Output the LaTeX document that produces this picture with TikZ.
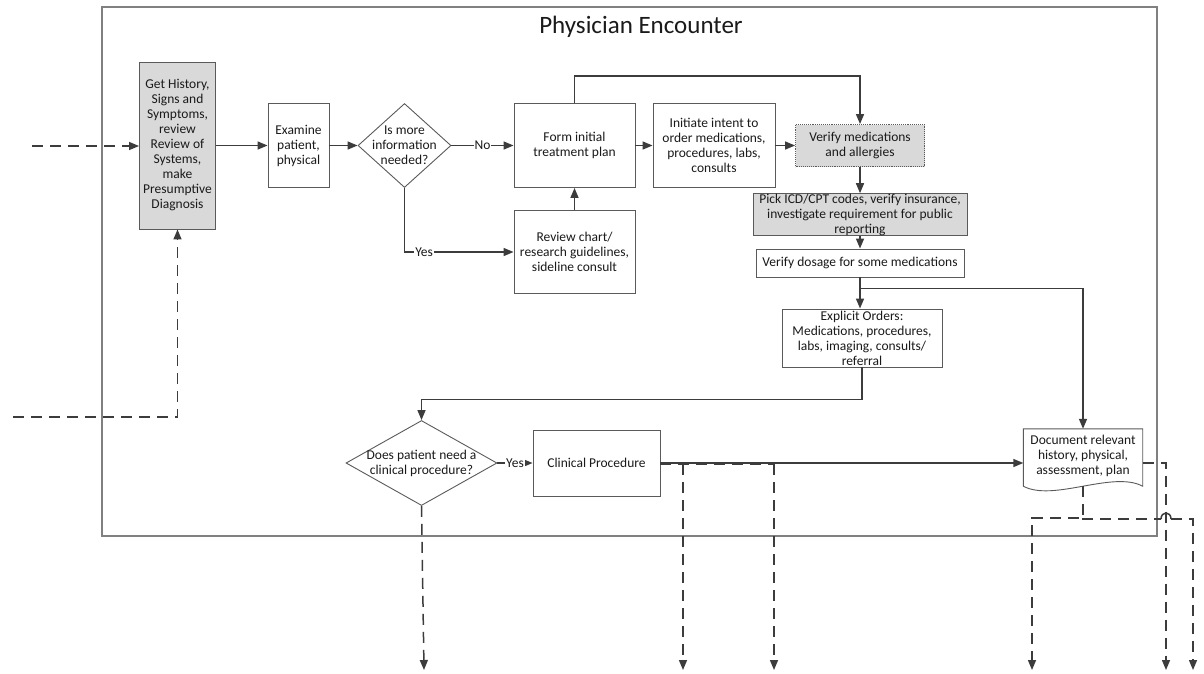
\documentclass[tikz,border=0pt]{standalone}
\usepackage{fontspec}
\setmainfont{Carlito}
\usetikzlibrary{arrows.meta,shapes.geometric,calc}
\definecolor{linegray}{HTML}{3C3C3C}
\definecolor{boxgray}{HTML}{D9D9D9}
\definecolor{framegray}{HTML}{808080}
\definecolor{edgegray}{HTML}{5A5A5A}
\definecolor{inkgray}{HTML}{1A1A1A}

\begin{document}
\begin{tikzpicture}[x=1pt,y=-1pt,
  font=\fontsize{13.5}{15}\selectfont,
  every node/.style={text=inkgray, inner sep=0pt, align=center},
  box/.style={draw=edgegray, line width=0.9pt, rectangle, fill=white},
  shaded/.style={box, fill=boxgray},
  decision/.style={draw=edgegray, line width=0.9pt, diamond, fill=white},
  flow/.style={draw=linegray, line width=1.5pt, -{Triangle[length=10pt,width=8pt]}},
  plain/.style={draw=linegray, line width=1.5pt},
  dashflow/.style={flow, dash pattern=on 11pt off 7pt},
  dashplain/.style={plain, dash pattern=on 11pt off 7pt},
  tag/.style={fill=white, inner sep=1pt}
]
\useasboundingbox (0,0) rectangle (1204,673);

% swimlane frame and title
\node (frame) [draw=framegray, line width=1.2pt, minimum width=1055, minimum height=529] at (629.5,271.5) {};
\node (title) at (641,27) {\fontsize{25}{29}\selectfont Physician Encounter};

% first row
\node (hist) [shaded, minimum width=76, minimum height=167] at (177.5,145.5)
  {Get History,\\ Signs and\\ Symptoms,\\ review\\ Review of\\ Systems,\\ make\\ Presumptive\\ Diagnosis};
\node (exam) [box, minimum width=61, minimum height=84] at (298.5,145.5) {Examine\\ patient,\\ physical};
\node (dia1) [decision, minimum width=93, minimum height=84] at (404.5,145.5) {};
\node (dia1txt) at (dia1) {Is more\\ information\\ needed?};
\node (form) [box, minimum width=121, minimum height=84] at (574.5,145.5) {Form initial\\ treatment plan};
\node (review) [box, minimum width=121, minimum height=83] at (574.5,252) {Review chart/\\ research guidelines,\\ sideline consult};
\node (init) [box, minimum width=122, minimum height=84] at (714,145.5) {Initiate intent to\\ order medications,\\ procedures, labs,\\ consults};
\node (verify) [draw=edgegray, line width=0.9pt, densely dotted, fill=boxgray, minimum width=129, minimum height=42] at (860,145.5) {Verify medications\\ and allergies};

% right column
\node (pick) [shaded, minimum width=214, minimum height=41] at (860,214.5) {Pick ICD/CPT codes, verify insurance,\\ investigate requirement for public\\ reporting};
\node (dosage) [box, minimum width=208, minimum height=28] at (860,263) {Verify dosage for some medications};
\node (explicit) [box, minimum width=160, minimum height=58] at (862,338) {Explicit Orders:\\ Medications, procedures,\\ labs, imaging, consults/\\ referral};

% bottom row
\node (dia2) [decision, minimum width=151, minimum height=85] at (421.5,463) {};
\node (dia2txt) at (dia2) {Does patient need a\\ clinical procedure?};
\node (clin) [box, minimum width=127, minimum height=66] at (596.5,463) {Clinical Procedure};
\node (doc) [minimum width=119, minimum height=57] at (1083,457.5) {};
\draw[draw=edgegray, line width=0.9pt, fill=white] (doc.north west) -- (doc.north east) -- (doc.south east)
  .. controls ($(doc.south east)+(-30,-16)$) and ($(doc.south west)+(30,16)$) .. (doc.south west) -- cycle;
\node (doctxt) at (1083,456) {Document relevant\\ history, physical,\\ assessment, plan};

% incoming links
\coordinate (inA) at (32,146);
\coordinate (inB) at (13,417);
\draw[dashflow] (inA) -- (inA -| hist.west);
\draw[dashflow] (inB) -| (hist.south);

% main flow
\draw[flow] (hist) -- (exam);
\draw[flow] (exam) -- (dia1);
\draw[flow] (dia1) -- node[tag]{No} (form);
\draw[flow] (dia1.south) |- node[tag, pos=0.59]{Yes} (review.west);
\draw[flow] (review) -- (form);
\draw[flow] (form) -- (init);
\draw[flow] (init) -- (verify);
\draw[flow] (form.north) -- ++(0,-27) -| (verify.north);
\draw[flow] (verify.south) -- (verify.south |- pick.north);
\draw[flow] (pick.south) -- (pick.south |- dosage.north);
\draw[flow] (dosage.south) -- (dosage.south |- explicit.north);
\path (dosage.south) ++(0,11) coordinate (split);
\draw[flow] (split) -| (doc.north);
\draw[flow] (explicit.south) -- ++(0,32) -| (dia2.north);
\draw[flow] (dia2) -- node[tag]{Yes} (clin);
\draw[flow] (clin.east) -- (clin.east -| doc.west);

% outgoing links
\coordinate (t1) at (683,464);
\coordinate (t2) at (774,464);
\coordinate (o0) at (424,670);
\coordinate (o1) at (683,670);
\coordinate (o2) at (774,670);
\coordinate (o3) at (1032,670);
\coordinate (o4) at (1166,670);
\coordinate (o5) at (1193,670);
\coordinate (r1) at (1166,463);
\coordinate (j) at (1083,518);
\coordinate (hopL) at (1161,519);
\coordinate (hopR) at (1171,519);
\coordinate (rc) at (1193,519);
\draw[dashflow] (dia2.south) -- (o0);
\draw[dashplain] (clin.east |- t1) -- (t2);
\draw[dashflow] (t1) -- (o1);
\draw[dashflow] (t2) -- (o2);
\draw[dashflow] (doc.east |- r1) -- (r1) -- (o4);
\draw[dashflow] (doc.south) -- (j) -| (o3);
% right branch with a line jump over the vertical link
\draw[dashplain] (j) |- (hopL);
\draw[plain] (hopL) .. controls +(0,-8) and +(0,-8) .. (hopR);
\draw[dashflow] (hopR) -- (rc) -- (o5);
\end{tikzpicture}
\end{document}
